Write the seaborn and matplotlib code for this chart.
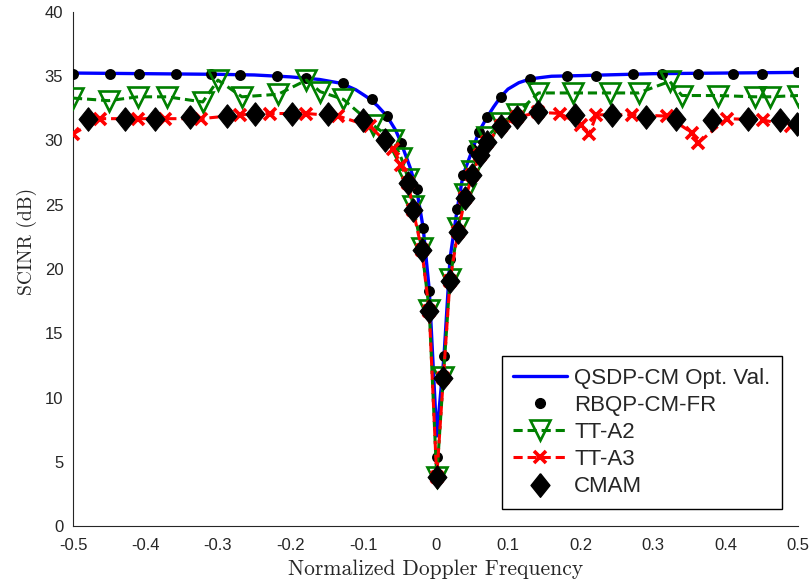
import matplotlib
matplotlib.use("Agg")
import matplotlib.pyplot as plt
from matplotlib.lines import Line2D
import seaborn as sns

# --- data -------------------------------------------------------------
# QSDP-CM optimal value (upper bound), solid blue curve
qsdp_x = [-0.5, -0.4, -0.3, -0.25, -0.2, -0.16, -0.13, -0.11, -0.095, -0.08,
          -0.067, -0.055, -0.048, -0.035, -0.026, -0.017, -0.0085, 0.0017,
          0.0117, 0.02, 0.03, 0.038, 0.051, 0.06, 0.071, 0.08, 0.09, 0.1,
          0.115, 0.131, 0.16, 0.2, 0.3, 0.4, 0.5]
qsdp_y = [35.25, 35.2, 35.15, 35.1, 34.95, 34.75, 34.45, 33.95, 33.4, 32.7,
          31.9, 30.8, 29.9, 27.9, 26.2, 23.2, 18.3, 7.0,
          13.2, 20.8, 24.7, 27.3, 29.3, 30.7, 31.8, 32.6, 33.4, 34.0,
          34.5, 34.8, 35.0, 35.05, 35.2, 35.25, 35.3]

# RBQP-CM-FR
rbqp_x = [-0.5, -0.449, -0.409, -0.358, -0.309, -0.269, -0.219, -0.178,
          -0.128, -0.088, -0.067, -0.048, -0.026, -0.017, -0.0085, 0.0017,
          0.0117, 0.020, 0.030, 0.038, 0.051, 0.060, 0.071, 0.090, 0.131,
          0.182, 0.222, 0.272, 0.312, 0.362, 0.411, 0.451, 0.5]
rbqp_y = [35.2, 35.2, 35.2, 35.2, 35.2, 35.1, 35.0, 34.9,
          34.5, 33.2, 31.9, 29.8, 26.2, 23.2, 18.3, 5.4,
          13.2, 20.8, 24.7, 27.3, 29.3, 30.7, 31.8, 33.4, 34.8,
          35.0, 35.0, 35.2, 35.2, 35.2, 35.2, 35.2, 35.3]

# TT-A2
tta2_x = [-0.5, -0.451, -0.410, -0.370, -0.321, -0.300, -0.267, -0.217,
          -0.178, -0.159, -0.127, -0.086, -0.058, -0.047, -0.0375, -0.031,
          -0.019, -0.0086, 0.0017, 0.0108, 0.020, 0.031, 0.041, 0.051, 0.061,
          0.071, 0.091, 0.112, 0.142, 0.190, 0.241, 0.280, 0.323, 0.340,
          0.390, 0.441, 0.461, 0.5]
tta2_y = [33.3, 33.1, 33.4, 33.4, 33.0, 34.7, 33.4, 33.6,
          34.7, 33.8, 33.2, 31.2, 30.0, 28.6, 27.0, 24.9,
          21.6, 16.8, 3.8, 11.6, 19.2, 23.2, 25.8, 27.6, 29.2,
          30.3, 31.4, 32.1, 33.7, 33.7, 33.7, 33.7, 34.6, 33.5,
          33.5, 33.4, 33.4, 33.5]

# TT-A3
tta3_x = [-0.5, -0.463, -0.411, -0.373, -0.323, -0.270, -0.228, -0.178,
          -0.134, -0.090, -0.058, -0.047, -0.0375, -0.031, -0.019, -0.0086,
          0.0017, 0.0108, 0.020, 0.031, 0.041, 0.051, 0.061, 0.071, 0.091,
          0.112, 0.142, 0.172, 0.200, 0.212, 0.222, 0.271, 0.319, 0.354,
          0.362, 0.402, 0.452, 0.491]
tta3_y = [30.5, 31.7, 31.7, 31.7, 31.7, 32.0, 32.1, 32.1,
          31.9, 31.1, 29.3, 28.1, 26.7, 24.6, 21.5, 16.7,
          3.8, 11.5, 19.1, 22.9, 25.5, 27.3, 28.9, 29.9, 31.1,
          31.8, 32.2, 32.1, 31.2, 30.5, 32.0, 32.0, 31.9, 30.6,
          29.8, 31.7, 31.6, 31.1]

# CMAM
cmam_x = [-0.479, -0.428, -0.387, -0.339, -0.288, -0.249, -0.198, -0.148,
          -0.100, -0.070, -0.0375, -0.031, -0.019, -0.0086, 0.0017, 0.0108,
          0.020, 0.031, 0.041, 0.051, 0.061, 0.071, 0.091, 0.112, 0.142,
          0.192, 0.243, 0.291, 0.332, 0.381, 0.431, 0.475, 0.498]
cmam_y = [31.7, 31.7, 31.7, 31.8, 31.9, 32.1, 32.1, 32.1,
          31.6, 30.0, 26.7, 24.6, 21.5, 16.7, 3.8, 11.5,
          19.1, 22.9, 25.5, 27.3, 28.9, 29.9, 31.1, 31.8, 32.2,
          32.0, 32.0, 31.85, 31.7, 31.6, 31.7, 31.6, 31.3]

x_ticks = [-0.5, -0.4, -0.3, -0.2, -0.1, 0, 0.1, 0.2, 0.3, 0.4, 0.5]
x_tick_labels = ["-0.5", "-0.4", "-0.3", "-0.2", "-0.1", "0",
                 "0.1", "0.2", "0.3", "0.4", "0.5"]
y_ticks = [0, 5, 10, 15, 20, 25, 30, 35, 40]
y_tick_labels = ["0", "5", "10", "15", "20", "25", "30", "35", "40"]

labels = ["QSDP-CM Opt. Val.", "RBQP-CM-FR", "TT-A2", "TT-A3", "CMAM"]

# --- styling ------------------------------------------------------------
sns.set_style("white")
plt.rcParams["font.family"] = ["Liberation Sans", "DejaVu Sans"]

BLUE = (0, 0, 1)
GREEN = (0, 0.5, 0)
RED = (1, 0, 0)
AXCOL = "#262626"

# slightly taller-than-wide diamond, as drawn by MATLAB
diamond = [(0, 1), (0.8, 0), (0, -1), (-0.8, 0), (0, 1)]

fig = plt.figure(figsize=(8.11, 5.83), dpi=100)
ax = fig.add_axes([73 / 811, 57 / 583, 725 / 811, 514 / 583])

style_a2 = dict(color=GREEN, linestyle=(0, (3.0, 1.6)), linewidth=2.2,
                marker="v", markersize=15, markerfacecolor="none",
                markeredgecolor=GREEN, markeredgewidth=1.9)
style_a3 = dict(color=RED, linestyle=(0, (3.0, 1.6)), linewidth=2.2,
                marker="x", markersize=9, markeredgewidth=2.6,
                markeredgecolor=RED)
style_cm = dict(color="black", linestyle="none", marker=diamond,
                markersize=17, markerfacecolor="black", markeredgecolor="black")

sns.lineplot(x=qsdp_x, y=qsdp_y, ax=ax, color=BLUE, linewidth=2.4,
             sort=False, estimator=None)
sns.scatterplot(x=rbqp_x, y=rbqp_y, ax=ax, color="black", s=62,
                linewidth=0, zorder=3)
sns.lineplot(x=tta2_x, y=tta2_y, ax=ax, sort=False, estimator=None,
             zorder=4, **style_a2)
sns.lineplot(x=tta3_x, y=tta3_y, ax=ax, sort=False, estimator=None,
             zorder=5, **style_a3)
sns.lineplot(x=cmam_x, y=cmam_y, ax=ax, sort=False, estimator=None,
             zorder=6, **style_cm)

# --- axes ---------------------------------------------------------------
ax.set_xlim(-0.5, 0.5)
ax.set_ylim(0, 40)
ax.set_xticks(x_ticks)
ax.set_xticklabels(x_tick_labels)
ax.set_yticks(y_ticks)
ax.set_yticklabels(y_tick_labels)
ax.tick_params(direction="in", length=6, width=0.8, colors=AXCOL,
               labelsize=12)
ax.tick_params(axis="x", pad=9)
ax.tick_params(axis="y", pad=7)
for side in ("top", "right"):
    ax.spines[side].set_visible(False)
for side in ("left", "bottom"):
    ax.spines[side].set_color(AXCOL)
    ax.spines[side].set_linewidth(0.8)

ax.set_xlabel("Normalized Doppler Frequency", family="cmr10", fontsize=15.5,
              color=AXCOL)
ax.set_ylabel("SCINR (dB)", family="cmr10", fontsize=14, color=AXCOL)
ax.xaxis.set_label_coords(0.5, -0.066)
ax.yaxis.set_label_coords(-0.05, 0.554)

# --- legend ---------------------------------------------------------------
handles = [
    Line2D([], [], color=BLUE, linewidth=2.4),
    Line2D([], [], color="black", linestyle="none", marker="o", markersize=7),
    Line2D([], [], **style_a2),
    Line2D([], [], **style_a3),
    Line2D([], [], **style_cm),
]
leg = ax.legend(handles, labels, loc="lower right",
                bbox_to_anchor=(0.9775, 0.034), borderaxespad=0,
                fontsize=16, handlelength=2.4, handletextpad=0.35,
                labelspacing=0.28, borderpad=0.5, fancybox=False,
                framealpha=1, edgecolor="black")
leg.get_frame().set_linewidth(1.0)

fig.savefig("out.png", dpi=100)
